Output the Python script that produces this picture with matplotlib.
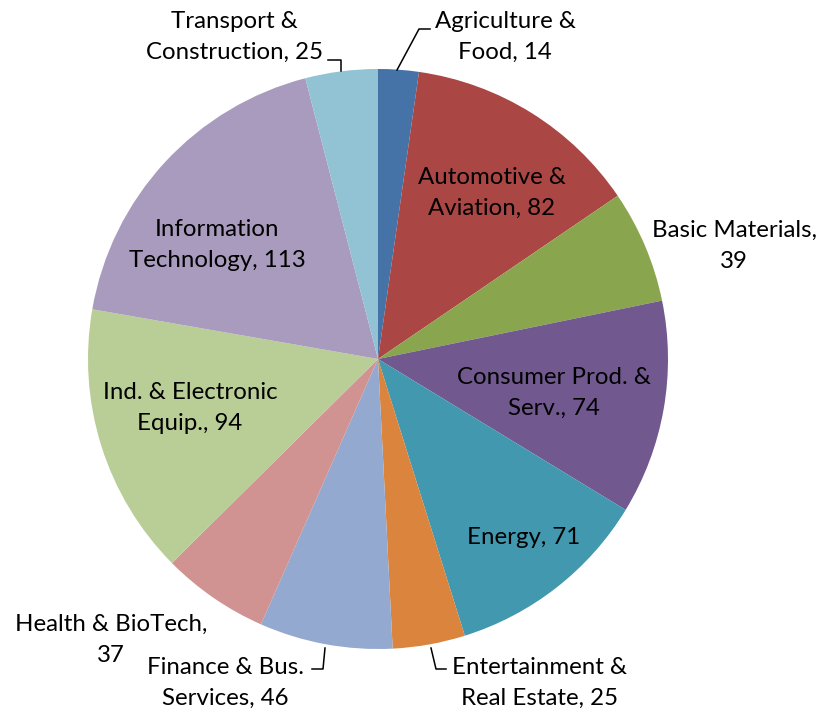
import matplotlib
matplotlib.use("Agg")
import matplotlib.pyplot as plt
from matplotlib.lines import Line2D

categories = ["Agriculture &\nFood", "Automotive &\nAviation", "Basic Materials,\n", "Consumer Prod. &\nServ.",
              "Energy", "Entertainment &\nReal Estate", "Finance & Bus.\nServices", "Health & BioTech,\n",
              "Ind. & Electronic\nEquip.", "Information\nTechnology", "Transport &\nConstruction"]
values = [14, 82, 39, 74, 71, 25, 46, 37, 94, 113, 25]
colors = ["#4572A7", "#AA4643", "#89A54E", "#71588F", "#4198AF", "#DB843D",
          "#93A9CF", "#D19392", "#B9CD96", "#A99BBD", "#92C3D4"]

W, H = 822, 715
fig = plt.figure(figsize=(W / 100, H / 100), dpi=100)
cx, cy, r = 378, 359, 290
ax = fig.add_axes([(cx - r) / W, (H - cy - r) / H, 2 * r / W, 2 * r / H])
ax.pie(values, colors=colors, startangle=90, counterclock=False, radius=1,
       wedgeprops=dict(linewidth=0))
ax.set_xlim(-1, 1)
ax.set_ylim(-1, 1)
ax.set_axis_off()

# label text positions (pixel centres) -- layout only
label_pos = [(505, 37), (492, 193), (734, 246), (554, 393), (524, 537), (539, 683),
             (225, 683), (111, 640), (190, 408), (217, 245), (234, 37)]

font = dict(family=["Lato", "DejaVu Sans"], fontsize=17.3, color="black")
for i, (lab, v) in enumerate(zip(categories, values)):
    px, py = label_pos[i]
    first, sep, second = lab.partition("\n")
    if not sep:
        txt = f"{first}, {v}"
    elif second == "":
        txt = f"{first}\n{v}"
    else:
        txt = f"{first}\n{second}, {v}"
    fig.text(px / W, 1 - py / H, txt, ha="center", va="center", ma="center",
             linespacing=1.55, **font)

# leader lines (pixel coords)
leaders = [
    [(397, 70), (419, 29), (430, 29)],
    [(341, 71), (341, 60), (328, 60)],
    [(431, 648), (436, 669), (446, 669)],
    [(325, 648), (323, 669), (312, 669)],
]
for pts in leaders:
    xs = [p[0] / W for p in pts]
    ys = [1 - p[1] / H for p in pts]
    fig.add_artist(Line2D(xs, ys, transform=fig.transFigure, color="black", lw=1.1))

fig.savefig("out.png", dpi=100)
